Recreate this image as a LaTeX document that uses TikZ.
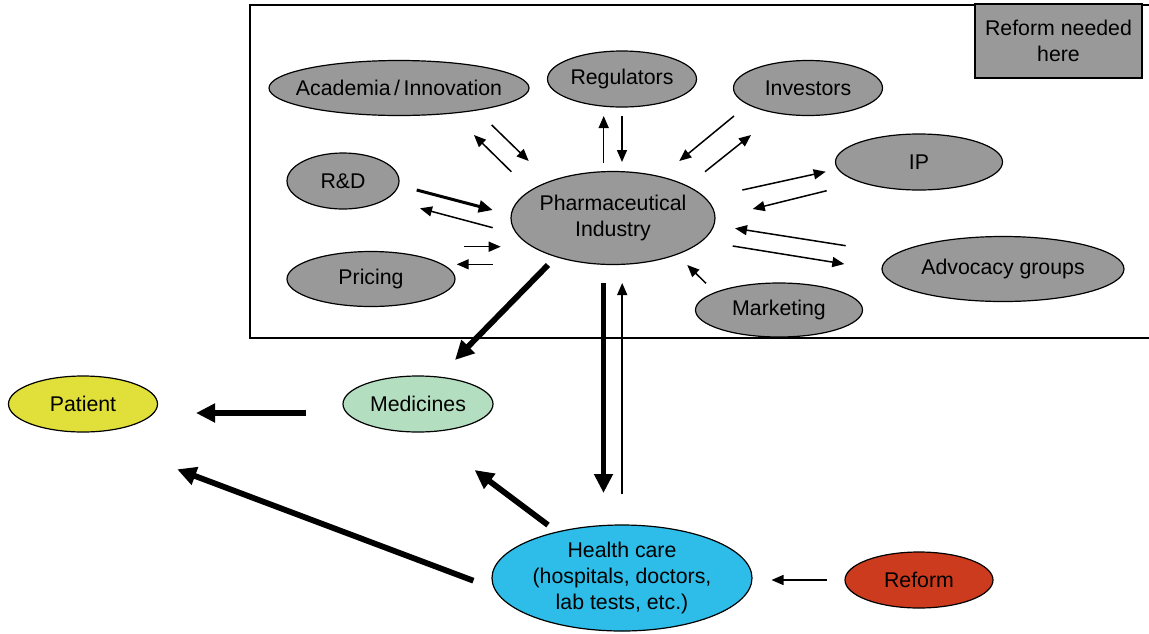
\documentclass[tikz,border=0pt]{standalone}
\usepackage{fontspec}
\setmainfont{Liberation Sans}
\usetikzlibrary{shapes.geometric,arrows.meta}
\definecolor{actorgray}{HTML}{999999}
\definecolor{patientyellow}{HTML}{E1E03A}
\definecolor{medgreen}{HTML}{B4DEC0}
\definecolor{careblue}{HTML}{2EBDE8}
\definecolor{reformred}{HTML}{CC3B1E}
\begin{document}
\begin{tikzpicture}[x=1pt,y=-1pt,font=\fontsize{21.3}{26}\selectfont]
  \tikzstyle{every node}=[align=center,inner sep=0pt]
  \tikzstyle{blob}=[ellipse,draw,line width=1.2pt]
  \tikzstyle{actor}=[blob,fill=actorgray]
  \tikzstyle{thin arrow}=[-{Triangle[length=12pt,width=10pt]},line width=1.5pt]
  \tikzstyle{mid arrow}=[-{Triangle[length=14pt,width=12pt]},line width=3pt]
  \tikzstyle{fat arrow}=[-{Triangle[length=19pt,width=18pt]},line width=5.8pt]
  \useasboundingbox (0,0) rectangle (1149,633);

  % industry frame, open on the right
  \draw[line width=1.5pt] (1149,5) -- (250,5) -- (250,338) -- (1149,338);
  \node[draw,line width=1.2pt,fill=actorgray,minimum width=167,minimum height=74] (needed) at (1058.5,41) {Reform needed\\here};

  \node[actor,minimum width=204,minimum height=93,label={center:{Pharmaceutical\\Industry}}] (pharma) at (613,218) {};
  \node[actor,minimum width=260,minimum height=55,label={center:{Academia\,/\,Innovation}}] (acad) at (399,88) {};
  \node[actor,minimum width=149,minimum height=56,label=center:Regulators] (regul) at (622,79) {};
  \node[actor,minimum width=149,minimum height=55,label=center:Investors] (invest) at (808,88) {};
  \node[actor,minimum width=167,minimum height=56,label=center:IP] (ip) at (919,162) {};
  \node[actor,minimum width=242,minimum height=65,label={center:{Advocacy groups}}] (advoc) at (1003,269) {};
  \node[actor,minimum width=167,minimum height=54,label=center:Marketing] (market) at (779,310) {};
  \node[actor,minimum width=112,minimum height=56,label=center:R\&D] (rnd) at (343,181) {};
  \node[actor,minimum width=168,minimum height=55,label=center:Pricing] (pricing) at (371,279) {};

  \node[blob,fill=patientyellow,minimum width=149,minimum height=56,label=center:Patient] (patient) at (83,404) {};
  \node[blob,fill=medgreen,minimum width=150,minimum height=56,label=center:Medicines] (medic) at (418,404) {};
  \node[blob,fill=careblue,minimum width=260,minimum height=106,label={center:{Health care\\(hospitals, doctors,\\lab tests, etc.)}}] (health) at (622,578) {};
  \node[blob,fill=reformred,minimum width=148,minimum height=56,label=center:Reform] (reform) at (919,580) {};

  % thin flows round the industry
  \foreach \n/\s/\e in {acIn/{491.7,125}/{528.7,161}, acOut/{511.3,171.7}/{474,135},
      reOut/{603.7,163}/{603.7,116}, reIn/{622,116}/{622,162},
      inIn/{734,116}/{679.3,161}, inOut/{705,171.7}/{751,135},
      ipOut/{742.3,190}/{825.7,171.7}, ipIn/{826.7,190.7}/{752.7,209},
      adIn/{845.7,245.7}/{735,228.3}, adOut/{732.7,246}/{844.3,264},
      maIn/{706,283.3}/{687.3,265},
      rdOut/{492.7,227.7}/{420,208.3},
      prIn/{464,246.7}/{500.7,246.7}, prOut/{492.7,264.3}/{456.7,264.3},
      hcUp/{622.2,494}/{622.2,283}, rfIn/{827,580}/{771.5,580}}
  {\coordinate (\n-s) at (\s); \coordinate (\n-e) at (\e);
   \draw[thin arrow] (\n-s) -- (\n-e);}

  \coordinate (rdIn-s) at (416.7,190); \coordinate (rdIn-e) at (492.7,210);
  \draw[mid arrow] (rdIn-s) -- (rdIn-e);

  % main flows
  \foreach \n/\s/\e in {phMed/{548,265}/{455,360}, phHc/{603.5,283}/{603.5,493},
      mePa/{306,413}/{196,413}, hcPa/{473.4,580.7}/{177.2,469.3},
      hcMe/{548,525}/{474.6,470}}
  {\coordinate (\n-s) at (\s); \coordinate (\n-e) at (\e);
   \draw[fat arrow] (\n-s) -- (\n-e);}

\end{tikzpicture}
\end{document}
